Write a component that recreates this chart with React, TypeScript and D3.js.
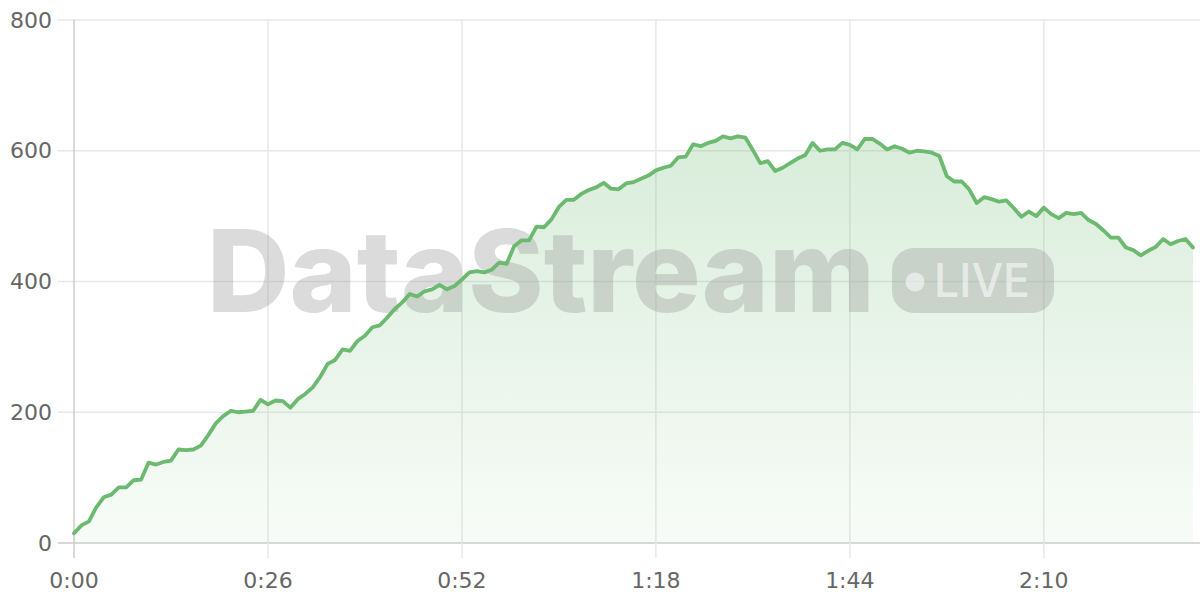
import React from "react";
import * as d3 from "d3";

// Throughput readings, one per second from 0:00 to 2:30
const values: number[] = [
  15, 27, 33, 55, 70, 74, 85, 85, 96, 97,
  123, 120, 124, 126, 143, 142, 143, 149, 165, 183,
  194, 202, 200, 201, 202, 219, 212, 218, 217, 207,
  220, 228, 238, 254, 274, 280, 296, 294, 309, 317,
  330, 333, 345, 358, 368, 381, 377, 385, 388, 395,
  388, 393, 403, 414, 416, 414, 418, 429, 427, 454,
  463, 463, 484, 483, 495, 514, 525, 525, 534, 540,
  544, 551, 542, 541, 550, 552, 557, 562, 570, 574,
  577, 590, 591, 610, 607, 612, 615, 622, 619, 622,
  620, 601, 581, 584, 569, 574, 581, 588, 593, 612,
  600, 602, 602, 612, 609, 602, 618, 618, 611, 602,
  607, 603, 597, 600, 599, 597, 592, 561, 553, 553,
  541, 520, 529, 526, 522, 524, 512, 499, 507, 500,
  513, 503, 497, 505, 503, 505, 494, 488, 478, 467,
  467, 452, 448, 440, 447, 453, 465, 457, 462, 465,
  452,
];
const xTicks: number[] = [0, 26, 52, 78, 104, 130];
const yTicks: number[] = [0, 200, 400, 600, 800];
const watermarkText = "DataStream";
const badgeText = "LIVE";

const W = 1200;
const H = 600;
const LINE = "#6cb970";
const FONT = "'DejaVu Sans', sans-serif";

function fmt(s: number): string {
  const m = Math.floor(s / 60);
  const sec = s % 60;
  return `${m}:${sec < 10 ? "0" : ""}${sec}`;
}

export default function App() {
  const x = d3.scaleLinear().domain([0, values.length - 1]).range([74, 1193]);
  const y = d3.scaleLinear().domain([0, 800]).range([543, 20]);

  const line = d3
    .line<number>()
    .x((_, i) => x(i))
    .y((d) => y(d));
  const area = d3
    .area<number>()
    .x((_, i) => x(i))
    .y0(y(0))
    .y1((d) => y(d));

  const maxV = d3.max(values) as number;

  return (
    <svg
      width={W}
      height={H}
      style={{ position: "absolute", left: 0, top: 0, background: "#fff" }}
    >
      <defs>
        <linearGradient
          id="fillGrad"
          gradientUnits="userSpaceOnUse"
          x1={0}
          x2={0}
          y1={y(maxV)}
          y2={y(0)}
        >
          <stop offset="0%" stopColor={LINE} stopOpacity={0.26} />
          <stop offset="100%" stopColor={LINE} stopOpacity={0.05} />
        </linearGradient>
      </defs>

      {yTicks.map((t) => (
        <line
          key={"hy" + t}
          x1={58}
          x2={W}
          y1={y(t)}
          y2={y(t)}
          stroke={t === 0 ? "#cccccc" : "#e8e8e8"}
          strokeWidth={1.5}
        />
      ))}
      {xTicks.map((t) => (
        <line
          key={"vx" + t}
          x1={x(t)}
          x2={x(t)}
          y1={y(800)}
          y2={558}
          stroke={t === 0 ? "#cccccc" : "#e8e8e8"}
          strokeWidth={1.5}
        />
      ))}

      {yTicks.map((t) => (
        <text
          key={"yl" + t}
          x={52}
          y={y(t)}
          textAnchor="end"
          dominantBaseline="central"
          fontFamily={FONT}
          fontSize={22}
          fill="#666"
        >
          {t}
        </text>
      ))}
      {xTicks.map((t) => (
        <text
          key={"xl" + t}
          x={x(t)}
          y={580}
          textAnchor="middle"
          dominantBaseline="central"
          fontFamily={FONT}
          fontSize={22}
          fill="#666"
        >
          {fmt(t)}
        </text>
      ))}

      <path d={area(values) || ""} fill="url(#fillGrad)" />

      <g opacity={0.35}>
        <text
          x={207}
          y={312}
          fontFamily="Inter, Roboto, sans-serif"
          fontWeight={800}
          fontSize={114}
          fill="#999"
          textLength={668}
          lengthAdjust="spacingAndGlyphs"
        >
          {watermarkText}
        </text>
        <rect x={892} y={248} width={162} height={65} rx={22} fill="#999" />
      </g>
      <g opacity={0.55} fill="#fff">
        <circle cx={915} cy={282} r={9.5} />
        <text
          x={934}
          y={297}
          fontFamily="Inter, Roboto, sans-serif"
          fontWeight={500}
          fontSize={47}
          textLength={96}
          lengthAdjust="spacingAndGlyphs"
        >
          {badgeText}
        </text>
      </g>

      <path
        d={line(values) || ""}
        fill="none"
        stroke={LINE}
        strokeWidth={3.8}
        strokeLinejoin="round"
        strokeLinecap="round"
      />
    </svg>
  );
}
